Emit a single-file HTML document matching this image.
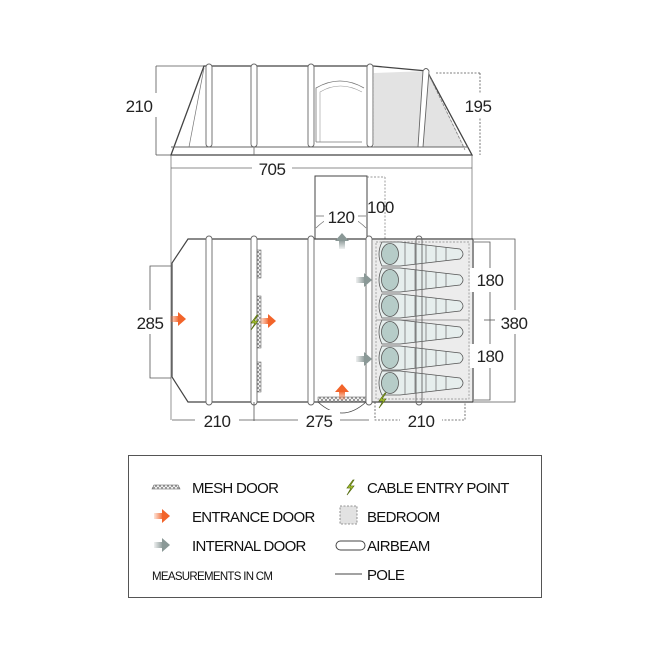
<!DOCTYPE html>
<html><head><meta charset="utf-8"><style>
html,body{margin:0;padding:0;background:#fff;}
svg{display:block;font-family:"Liberation Sans",sans-serif;}
.t{font-size:17px;fill:#222;letter-spacing:-0.5px}
.l{font-size:15px;fill:#111;letter-spacing:-0.7px}
</style></head><body>
<svg width="648" height="648" viewBox="0 0 648 648" xmlns="http://www.w3.org/2000/svg">
<defs>
<linearGradient id="og" x1="0" x2="1"><stop offset="0" stop-color="#f47a45" stop-opacity="0.2"/><stop offset="1" stop-color="#f2642a"/></linearGradient>
<linearGradient id="gg" x1="0" x2="1"><stop offset="0" stop-color="#909c9b" stop-opacity="0.15"/><stop offset="1" stop-color="#8a9896"/></linearGradient>
<g id="bag">
<path d="M382,-12 L400,-12 L460,-5 Q466,0 460,5 L400,12 L382,12 Q376,0 382,-12Z" fill="#e6eeed" stroke="#555" stroke-width="0.8"/>
<ellipse cx="390" cy="0" rx="8.5" ry="10.5" fill="#b6ccc8" stroke="#555" stroke-width="0.8"/>
<g stroke="#666" stroke-width="0.7"><line x1="405" y1="-11.5" x2="405" y2="11.5"/><line x1="415" y1="-10.5" x2="415" y2="10.5"/><line x1="426" y1="-9" x2="426" y2="9"/><line x1="436" y1="-8" x2="436" y2="8"/><line x1="446" y1="-7" x2="446" y2="7"/></g>
</g>
<g id="oa"><rect x="0" y="-3" width="9" height="6" fill="url(#og)"/><path d="M8,-7 L16,0 L8,7Z" fill="#f2642a"/></g>
<g id="ga"><rect x="0" y="-3" width="9" height="6" fill="url(#gg)"/><path d="M8,-7 L16,0 L8,7Z" fill="#8a9896"/></g>
<g id="bolt"><path d="M3,-7 L-3,1 L1,1 L-3,8 L4,-1 L0,-1 L4,-7Z" fill="#b5d334" stroke="#556b10" stroke-width="0.7"/></g>
<pattern id="mesh" width="4" height="4" patternUnits="userSpaceOnUse"><circle cx="2" cy="2" r="1.4" fill="none" stroke="#555" stroke-width="0.6"/></pattern>
</defs>

<!-- SIDE VIEW -->
<g stroke="#555" fill="none" stroke-width="0.8">
<line x1="156" y1="66" x2="204" y2="66"/><line x1="156" y1="155" x2="171" y2="155"/><line x1="156" y1="66" x2="156" y2="155"/>
<line x1="436" y1="73" x2="480" y2="73" stroke-dasharray="2,1.5"/><line x1="480" y1="73" x2="480" y2="155" stroke-dasharray="2,1.5"/>
</g>
<path d="M374,73 L427,71 L465,147 L374,147Z" fill="#e3e3e3"/>
<path d="M171,155 L204,66 L373,66 L427,71 L472,155Z" fill="none" stroke="#444" stroke-width="1.3"/>
<line x1="171" y1="147" x2="468" y2="147" stroke="#666" stroke-width="0.9"/>
<line x1="254" y1="147" x2="254" y2="155" stroke="#666" stroke-width="0.8"/>
<line x1="373" y1="73" x2="373" y2="147" stroke="#777" stroke-dasharray="2,1.5" stroke-width="0.7"/>
<line x1="189" y1="147" x2="204" y2="68" stroke="#777" stroke-width="0.7"/>
<line x1="429" y1="75" x2="465" y2="150" stroke="#777" stroke-width="0.7" stroke-dasharray="3,1.5"/>
<path d="M316,142 L316,88 Q340,74 364,88" fill="none" stroke="#777" stroke-width="0.8"/>
<path d="M320,142 L320,92 Q340,80 362,92" fill="none" stroke="#999" stroke-width="0.6"/>
<line x1="316" y1="142" x2="362" y2="142" stroke="#777" stroke-width="0.7"/>
<g fill="#fff" stroke="#666" stroke-width="0.9">
<rect x="206" y="64" width="6" height="83" rx="3"/><rect x="251" y="64" width="6" height="83" rx="3"/>
<rect x="308" y="64" width="6" height="83" rx="3"/><rect x="367" y="64" width="6" height="83" rx="3"/>
<path d="M423,71 Q426,66 429,71 L423,147 L418,147Z"/>
</g>
<rect x="120" y="93" width="38" height="24" fill="#fff"/>
<text x="139" y="112" class="t" text-anchor="middle">210</text>
<rect x="458" y="93" width="40" height="24" fill="#fff"/>
<text x="478" y="112" class="t" text-anchor="middle">195</text>
<line x1="171" y1="168" x2="472" y2="168" stroke="#666" stroke-width="0.8"/>
<rect x="252" y="158" width="40" height="22" fill="#fff"/>
<text x="272" y="175" class="t" text-anchor="middle">705</text>
<line x1="171" y1="155" x2="171" y2="420" stroke="#666" stroke-width="0.7"/>
<line x1="472" y1="155" x2="472" y2="239" stroke="#666" stroke-width="0.7"/>

<!-- PLAN VIEW -->
<rect x="315" y="176" width="52" height="63" fill="#fff" stroke="#444" stroke-width="1"/>
<line x1="385" y1="177" x2="385" y2="239" stroke="#777" stroke-dasharray="2,1.5" stroke-width="0.7"/>
<line x1="367" y1="177" x2="385" y2="177" stroke="#777" stroke-dasharray="2,1.5" stroke-width="0.7"/>
<path d="M316,228 Q341,203 366,228" fill="none" stroke="#777" stroke-width="0.8"/>
<line x1="316" y1="216" x2="366" y2="216" stroke="#666" stroke-width="0.7"/>
<rect x="324" y="207" width="34" height="18" fill="#fff"/>
<text x="341" y="223" class="t" text-anchor="middle">120</text>
<text x="367" y="213" class="t">100</text>

<path d="M188,239 L473,239 L473,402 L188,402 L172,377 L172,263Z" fill="#fff" stroke="#444" stroke-width="1.2"/>
<rect x="373" y="240" width="99" height="161" fill="#ececec"/>
<rect x="376" y="242" width="93" height="157" fill="none" stroke="#888" stroke-dasharray="2,1.5" stroke-width="0.7"/>
<line x1="376" y1="320" x2="469" y2="320" stroke="#888" stroke-width="0.7"/>
<use href="#bag" y="254"/><use href="#bag" y="280"/><use href="#bag" y="306"/>
<use href="#bag" y="332"/><use href="#bag" y="358"/><use href="#bag" y="383"/>
<!-- mesh -->
<rect x="256" y="250" width="5" height="28" fill="url(#mesh)" stroke="#555" stroke-width="0.5"/>
<rect x="256" y="296" width="5" height="52" fill="url(#mesh)" stroke="#555" stroke-width="0.5"/>
<rect x="256" y="362" width="5" height="30" fill="url(#mesh)" stroke="#555" stroke-width="0.5"/>
<rect x="318" y="397" width="48" height="5" fill="url(#mesh)" stroke="#555" stroke-width="0.5"/>
<path d="M318,402 Q342,424 366,402" fill="none" stroke="#444" stroke-width="0.8"/>
<!-- beams -->
<g fill="#fff" stroke="#666" stroke-width="0.9">
<rect x="206" y="236" width="6" height="169" rx="3"/><rect x="251" y="236" width="6" height="169" rx="3"/>
<rect x="308" y="236" width="6" height="169" rx="3"/><rect x="366" y="236" width="6" height="169" rx="3"/>
<rect x="416" y="236" width="6" height="169" rx="3" fill="none"/>
</g>
<!-- arrows -->
<use href="#oa" x="170" y="319"/><use href="#oa" x="260" y="321"/>
<g transform="translate(342,400) rotate(-90)"><use href="#oa"/></g>
<g transform="translate(342,249) rotate(-90)"><use href="#ga"/></g>
<use href="#ga" x="356" y="280"/><use href="#ga" x="356" y="359"/>
<use href="#bolt" x="254" y="322"/><use href="#bolt" x="382" y="400"/>

<!-- dims -->
<g stroke="#555" fill="none" stroke-width="0.8">
<path d="M171,266 L150,266 L150,378 L171,378"/>
<path d="M474,239 L515,239 L515,402 L474,402"/>
<path d="M474,242 L490,242 L490,400 L474,400"/><line x1="484" y1="320" x2="498" y2="320"/>
<line x1="172" y1="420" x2="254" y2="420"/><line x1="254" y1="402" x2="254" y2="421"/>
<line x1="254" y1="420" x2="369" y2="420"/>
<path d="M375,402 L375,420 L465,420 L465,402" stroke-dasharray="2,1.5"/>
</g>
<rect x="130" y="310" width="40" height="24" fill="#fff"/>
<text x="150" y="329" class="t" text-anchor="middle">285</text>
<rect x="495" y="310" width="40" height="24" fill="#fff"/>
<text x="514" y="329" class="t" text-anchor="middle">380</text>
<rect x="470" y="268" width="40" height="24" fill="#fff"/>
<text x="490" y="286" class="t" text-anchor="middle">180</text>
<rect x="470" y="344" width="40" height="24" fill="#fff"/>
<text x="490" y="362" class="t" text-anchor="middle">180</text>
<rect x="195" y="410" width="44" height="22" fill="#fff"/>
<text x="217" y="427" class="t" text-anchor="middle">210</text>
<rect x="298" y="410" width="42" height="22" fill="#fff"/>
<text x="319" y="427" class="t" text-anchor="middle">275</text>
<rect x="400" y="410" width="42" height="22" fill="#fff"/>
<text x="421" y="427" class="t" text-anchor="middle">210</text>

<!-- LEGEND -->
<rect x="128.5" y="455.5" width="413" height="142" fill="#fff" stroke="#555" stroke-width="1"/>
<path d="M152,489 L154,485 L178,485 L180,489Z" fill="url(#mesh)" stroke="#555" stroke-width="0.6"/>
<text x="192" y="493" class="l">MESH DOOR</text>
<use href="#oa" x="154" y="516"/>
<text x="192" y="522" class="l">ENTRANCE DOOR</text>
<use href="#ga" x="154" y="545"/>
<text x="192" y="551" class="l">INTERNAL DOOR</text>
<text x="152" y="580" style="font-size:11.5px;letter-spacing:-0.7px;fill:#111">MEASUREMENTS IN CM</text>
<use href="#bolt" x="350" y="487"/>
<text x="367" y="493" class="l">CABLE ENTRY POINT</text>
<rect x="340" y="506" width="17" height="18" fill="#e2e2e2" stroke="#777" stroke-dasharray="2,1.5" stroke-width="0.8"/>
<text x="367" y="522" class="l">BEDROOM</text>
<rect x="336" y="541" width="29" height="9" rx="4.5" fill="#fff" stroke="#444" stroke-width="1"/>
<text x="367" y="551" class="l">AIRBEAM</text>
<line x1="335" y1="574" x2="362" y2="574" stroke="#444" stroke-width="1"/>
<text x="367" y="580" class="l">POLE</text>
</svg>
</body></html>
